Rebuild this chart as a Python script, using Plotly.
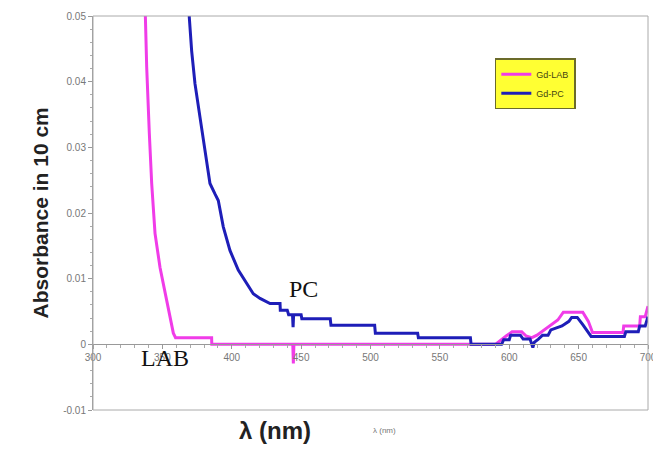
import plotly.graph_objects as go

# Gd-LAB spectrum (wavelength nm, absorbance in 10 cm)
lab_wl = [336.5, 337.5, 338.7, 340.6, 342.3, 344.7, 348.3, 353.1, 357.9, 359.5, 385.5, 385.6,
          444.0, 444.4, 444.8, 590, 594, 598, 602, 609, 612, 616, 620, 625, 630, 635, 639,
          653, 657, 660, 682, 682.5, 694, 694.5, 698, 700]
lab_abs = [0.06, 0.0498, 0.0422, 0.0321, 0.0245, 0.0169, 0.0117, 0.0067, 0.0017, 0.001, 0.001, 0.0,
           0.0, -0.0029, 0.0, 0.0, 0.0007, 0.0013, 0.0019, 0.0019, 0.0013, 0.001, 0.0014, 0.0022, 0.0029, 0.0037, 0.0049,
           0.0049, 0.0035, 0.0018, 0.0018, 0.0028, 0.0028, 0.0042, 0.0042, 0.0058]

# Gd-PC spectrum
pc_wl = [369.0, 369.4, 371.1, 373.5, 377.1, 380.7, 384.3, 387.9, 390.3, 393.9, 398.7, 404.7, 410.8,
         415.5, 420.4, 427.6, 434.8, 435.0, 440.0, 441.0, 443.8, 444.2, 444.6, 450.0, 450.5, 471.0,
         471.5, 503.0, 503.5, 534.0, 534.5, 572.0, 572.5, 594.5, 596, 600, 601, 608, 610, 615, 617,
         618, 621, 624, 628, 630, 638, 643, 645, 649, 653, 656, 659, 683, 684, 693, 694, 698, 699, 700]
pc_abs = [0.06, 0.0498, 0.0447, 0.0397, 0.0346, 0.0295, 0.0245, 0.0229, 0.0219, 0.0179, 0.0143, 0.0113, 0.0092,
          0.0077, 0.0070, 0.0062, 0.0062, 0.0052, 0.0052, 0.0045, 0.0045, 0.0026, 0.0045, 0.0045, 0.0039, 0.0039,
          0.0029, 0.0029, 0.0017, 0.0017, 0.001, 0.001, 0.0, 0.0, 0.0007, 0.0007, 0.0014, 0.0014, 0.0008, 0.0008, -0.0005,
          0.0003, 0.0008, 0.0014, 0.0014, 0.0022, 0.0028, 0.0035, 0.0041, 0.0041, 0.003, 0.002, 0.0012, 0.0012, 0.0019, 0.0019, 0.0028, 0.0028, 0.0035, 0.0042]

x_ticks = [300, 350, 400, 450, 500, 550, 600, 650, 700]
y_ticks = [-0.01, 0, 0.01, 0.02, 0.03, 0.04, 0.05]
y_tick_text = ["-0.01", "0", "0.01", "0.02", "0.03", "0.04", "0.05"]

LAB_COLOR = "#f03ce8"
PC_COLOR = "#1e1eb8"

fig = go.Figure()
fig.add_trace(go.Scatter(x=lab_wl, y=lab_abs, mode="lines", name="Gd-LAB",
                         line=dict(color=LAB_COLOR, width=3)))
fig.add_trace(go.Scatter(x=pc_wl, y=pc_abs, mode="lines", name="Gd-PC",
                         line=dict(color=PC_COLOR, width=3)))

tick_font = dict(family="Arial, Liberation Sans, sans-serif", size=10, color="#777777")

fig.update_layout(
    width=653, height=467,
    margin=dict(l=93, r=5, t=16, b=57, autoexpand=False),
    paper_bgcolor="white", plot_bgcolor="white",
    showlegend=True,
    legend=dict(x=0.724, y=0.893, xanchor="left", yanchor="top",
                bgcolor="#ffff33", bordercolor="#6b6b2a", borderwidth=1.5,
                font=dict(family="Arial, Liberation Sans, sans-serif", size=9, color="#444411"),
                tracegroupgap=0, itemwidth=30),
    xaxis=dict(range=[300, 700], tickvals=x_ticks, ticktext=[str(v) for v in x_ticks],
               anchor="free", position=1/6, showline=True, linecolor="#999999", linewidth=1,
               ticks="outside", ticklen=4, tickcolor="#999999", ticklabeloverflow="allow",
               automargin=False,
               minor=dict(dtick=10, ticks="outside", ticklen=3, tickcolor="#aaaaaa"),
               showgrid=False, zeroline=False, tickfont=tick_font),
    yaxis=dict(range=[-0.01, 0.05], tickvals=y_ticks, ticktext=y_tick_text,
               showline=True, linecolor="#999999", linewidth=1, automargin=False,
               ticks="outside", ticklen=4, tickcolor="#999999",
               minor=dict(dtick=0.002, ticks="outside", ticklen=2, tickcolor="#aaaaaa"),
               showgrid=False, zeroline=False, tickfont=tick_font),
    shapes=[dict(type="rect", xref="paper", yref="paper", x0=0, y0=0, x1=1, y1=1,
                 line=dict(color="#aaaaaa", width=1))],
    annotations=[
        dict(text="<b>Absorbance in 10 cm</b>", xref="paper", yref="paper", x=-0.119, y=0.5,
             textangle=-90, showarrow=False,
             font=dict(family="Arial, Liberation Sans, sans-serif", size=21, color="#222222")),
        dict(text="<b>λ (nm)</b>", xref="paper", yref="paper", x=0.259, y=-0.091,
             showarrow=False,
             font=dict(family="Arial, Liberation Sans, sans-serif", size=24, color="#222222")),
        dict(text="λ (nm)", xref="paper", yref="paper", x=0.526, y=-0.069,
             showarrow=False,
             font=dict(family="Arial, Liberation Sans, sans-serif", size=8, color="#777777")),
        dict(text="PC", x=451.4, y=0.0085, xref="x", yref="y", showarrow=False,
             font=dict(family="Liberation Serif, DejaVu Serif, serif", size=24, color="#111111")),
        dict(text="LAB", x=352, y=-0.0021, xref="x", yref="y", showarrow=False,
             font=dict(family="Liberation Serif, DejaVu Serif, serif", size=24, color="#111111")),
    ],
)

fig.write_html("out.html")
